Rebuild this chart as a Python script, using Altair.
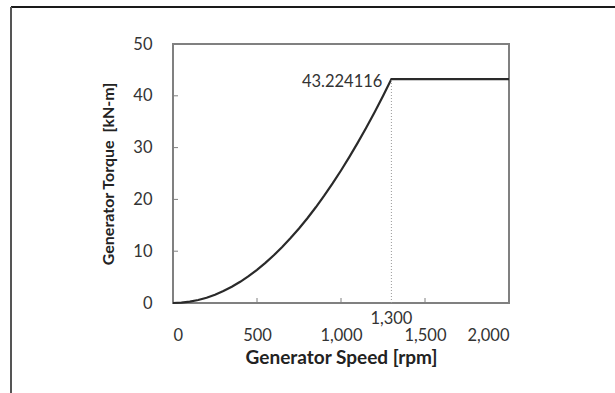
import altair as alt
import pandas as pd

# Curve values
speed = [0, 50, 100, 150, 200, 250, 300, 350, 400, 450, 500, 550, 600, 650, 700, 750, 800,
         850, 900, 950, 1000, 1050, 1100, 1150, 1200, 1250, 1300, 2000]
torque = [0.0, 0.06, 0.26, 0.58, 1.02, 1.60, 2.30, 3.13, 4.09, 5.18, 6.39, 7.74, 9.21, 10.81,
          12.53, 14.39, 16.37, 18.48, 20.72, 23.08, 25.58, 28.20, 30.95, 33.83, 36.83, 39.96,
          43.224116, 43.224116]

x_ticks = [0, 500, 1000, 1500, 2000]
y_ticks = [0, 10, 20, 30, 40, 50]
rated_speed = [1300]
rated_torque = [43.224116]
rated_label = ["43.224116"]
speed_label = ["1,300"]

FONT = "Lato"
W, H = 336, 259
LFS = 16.5

curve_df = pd.DataFrame({"speed": speed, "torque": torque})
rated_df = pd.DataFrame({"speed": rated_speed, "torque": rated_torque,
                         "zero": [0], "label": rated_label, "slabel": speed_label})
xt_df = pd.DataFrame({"v": x_ticks[1:-1]})
yt_df = pd.DataFrame({"v": y_ticks[1:-1]})

xs = alt.Scale(domain=[0, 2000], nice=False, zero=False)
ys = alt.Scale(domain=[0, 50], nice=False)

xenc = alt.X("speed:Q", scale=xs, title="Generator Speed [rpm]",
             axis=alt.Axis(values=x_ticks, format=",.0f", ticks=False, domain=False, grid=False,
                           labelPadding=24, labelFontSize=LFS, labelColor="#333333", labelFont=FONT,
                           titleFont=FONT, titleFontSize=19, titleFontWeight="bold",
                           titleColor="#222222", titlePadding=5))
yenc = alt.Y("torque:Q", scale=ys, title="Generator Torque \u00a0[kN-m]",
             axis=alt.Axis(values=y_ticks, ticks=False, domain=False, grid=False,
                           labelPadding=21, labelFontSize=LFS, labelColor="#333333", labelFont=FONT,
                           titleFont=FONT, titleFontSize=16, titleFontWeight="bold",
                           titleColor="#222222", titlePadding=16))

curve = alt.Chart(curve_df).mark_line(color="#2a2a2a", strokeWidth=2.2).encode(x=xenc, y=yenc)

dotted = alt.Chart(rated_df).mark_rule(color="#9a9a9a", strokeWidth=1, strokeDash=[1, 2]).encode(
    x=alt.X("speed:Q", scale=xs), y=alt.Y("zero:Q", scale=ys), y2="torque:Q")

val_label = alt.Chart(rated_df).mark_text(
    align="right", baseline="middle", dx=-9, dy=3, font=FONT, fontSize=LFS, color="#333333"
).encode(x=alt.X("speed:Q", scale=xs), y=alt.Y("torque:Q", scale=ys), text="label:N")

spd_label = alt.Chart(rated_df).mark_text(
    align="center", baseline="middle", font=FONT, fontSize=LFS, color="#333333"
).encode(x=alt.X("speed:Q", scale=xs), y=alt.value(H + 16), text="slabel:N")

xticks = alt.Chart(xt_df).mark_rule(color="#808080", strokeWidth=1).encode(
    x=alt.X("v:Q", scale=xs), y=alt.value(H), y2=alt.value(H - 5))
yticks = alt.Chart(yt_df).mark_rule(color="#808080", strokeWidth=1).encode(
    y=alt.Y("v:Q", scale=ys), x=alt.value(0), x2=alt.value(5))

# decorative outer frame of the original picture
frame_top = alt.Chart(rated_df).mark_rule(color="#1a1a1a", strokeWidth=2).encode(
    x=alt.value(-162), x2=alt.value(445), y=alt.value(-37))
frame_left = alt.Chart(rated_df).mark_rule(color="#555555", strokeWidth=2).encode(
    x=alt.value(-162), y=alt.value(-37), y2=alt.value(360))

chart = alt.layer(curve, dotted, xticks, yticks, val_label, spd_label, frame_top, frame_left).properties(
    width=W, height=H,
    autosize=alt.AutoSizeParams(type="none"),
    padding={"left": 173, "top": 44, "right": 106, "bottom": 90},
    background="white",
).configure_view(stroke="#808080", strokeWidth=2)

chart.save("out.html", embed_options={"renderer": "svg", "actions": False})
